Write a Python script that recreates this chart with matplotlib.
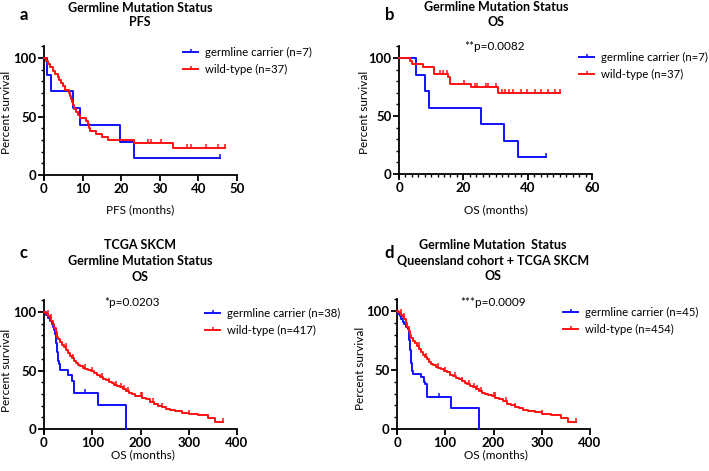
import numpy as np
import matplotlib.pyplot as plt
from matplotlib.path import Path
from matplotlib.lines import Line2D

plt.rcParams['font.family'] = ['Lato', 'DejaVu Sans']

BLUE = '#1010ff'
RED = '#ff1010'

# panel a: PFS, Queensland cohort
a_carrier_t = [0, 0.7, 1.7, 7.4, 9.2, 19.6, 23.4, 45.7]
a_carrier_s = [100, 85.7, 71.4, 57.1, 42.9, 28.6, 14.3, 14.3]
a_carrier_cens = [45.7]
a_wild_t = [0, 0.5, 1.0, 1.5, 2.3, 2.8, 3.7, 4.0, 4.5, 5.0, 5.5, 6.5, 6.8, 7.0, 7.2,
            7.5, 7.8, 8.2, 8.8, 9.2, 11.0, 11.3, 11.6, 12.0, 13.5, 15.0, 16.5, 23.4, 33.3, 47.0]
a_wild_s = [100, 97.3, 94.6, 91.9, 89.2, 86.5, 83.8, 81.1, 78.4, 75.7, 73.0, 70.3, 67.6, 64.9, 62.2,
            59.5, 56.8, 54.1, 51.4, 48.6, 45.9, 43.2, 40.5, 37.8, 35.1, 32.4, 29.7, 27.0, 23.2, 23.2]
a_wild_cens = [26.9, 27.6, 30.2, 37.0, 38.0, 42.0, 45.2, 47.0]

# panel b: OS, Queensland cohort
b_carrier_t = [0, 5.3, 8.1, 9.2, 25.4, 32.7, 37.0, 45.8]
b_carrier_s = [100, 85.7, 71.4, 57.1, 42.9, 28.6, 14.3, 14.3]
b_carrier_cens = [45.8]
b_wild_t = [0, 3.4, 3.9, 7.5, 11.0, 15.1, 15.8, 22.3, 30.8, 50.0]
b_wild_s = [100, 97.3, 94.6, 91.9, 86.5, 83.3, 77.8, 74.8, 70.2, 70.2]
b_wild_cens = [12.7, 13.8, 14.8, 20.3, 23.6, 24.4, 27.2, 27.7, 30.3, 31.9, 33.1, 34.1,
               35.5, 37.9, 39.9, 42.2, 44.1, 46.3, 48.4, 50.0]

# panel c: OS, TCGA SKCM
c_carrier_t = [0, 4, 8, 12, 16, 19, 21, 23, 24, 25, 26, 27, 28, 29, 30, 32, 34, 49, 57, 62, 111, 169]
c_carrier_s = [100, 97.4, 94.7, 92.1, 89.5, 86.8, 84.2, 81.6, 78.9, 73.7, 68.4, 65.8, 63.2, 60.5,
               57.9, 55.3, 50.5, 45.9, 40.8, 30.6, 20.4, 0]
c_carrier_cens = [85]
c_wild_t = [0, 3, 6, 9, 12, 15, 18, 21, 24, 27, 30, 34, 38, 42, 46, 50, 54, 58, 62, 66,
            70, 75, 80, 86, 92, 98, 104, 110, 116, 122, 128, 134, 140, 146, 152, 158, 164, 170, 176, 182,
            188, 196, 204, 212, 220, 228, 236, 244, 252, 262, 272, 285, 300, 320, 340, 355, 370]
c_wild_s = [100, 99, 98, 96.5, 95, 92.5, 89.5, 86, 82.5, 79, 76.5, 74.5, 72, 70, 67.5, 65, 62.5, 60.5, 58.5, 56.5,
            55, 54, 52.5, 51.5, 50.5, 49.5, 48, 46, 44.5, 43, 42, 40.5, 39, 38, 36.5, 35.5, 34, 32.5, 30.5, 29.5,
            28.5, 28, 26.5, 25.5, 23.5, 21.5, 20, 18.5, 17.5, 16.5, 15.5, 14, 12.5, 12, 9, 6, 6]
c_wild_cens = [8, 14, 45, 60, 85, 100, 120, 135, 150, 160, 166, 175, 200, 203, 226, 245, 300, 370]

# panel d: OS, Queensland cohort + TCGA SKCM
d_carrier_t = [0, 3, 6, 9, 12, 15, 18, 22, 24, 25, 26, 27, 28, 29, 30, 31, 32, 34, 49, 55, 58, 62, 111, 169]
d_carrier_s = [100, 97.8, 95.6, 93.3, 91.1, 88.9, 86.7, 84.4, 80.0, 75.6, 71.1, 66.7, 62.2, 57.8,
               55.6, 51.1, 48.9, 46.7, 44.4, 40.0, 37.8, 26.7, 17.8, 0]
d_carrier_cens = [87]
d_wild_t = [0, 3, 6, 9, 12, 15, 18, 21, 24, 27, 30, 34, 38, 42, 46, 50, 54, 58, 62, 66,
            70, 75, 80, 86, 92, 98, 104, 110, 116, 122, 128, 134, 140, 146, 152, 158, 164, 170, 176, 182,
            188, 196, 204, 212, 220, 228, 236, 244, 252, 262, 272, 285, 300, 320, 340, 355, 370]
d_wild_s = [100, 99, 98, 96.5, 95, 93, 90, 86.5, 83, 79.5, 77, 75, 72.5, 70.5, 68, 65.5, 63, 61, 59, 57,
            55.5, 54, 52.5, 51.5, 50.5, 49.5, 48, 46, 44.5, 43, 42, 40.5, 39, 38, 36.5, 35.5, 34, 32.5, 30.5, 29.5,
            28.5, 28, 26.5, 25.5, 23.5, 21.5, 20, 18.5, 17.5, 16.5, 15.5, 14, 12.5, 12, 9, 6, 6]
d_wild_cens = [8, 14, 45, 60, 85, 100, 120, 135, 150, 160, 166, 175, 200, 203, 226, 245, 300, 370]

W, H = 709, 471
fig = plt.figure(figsize=(W / 100, H / 100), dpi=100)

tick = Path([[0, 0], [0, 1]], [Path.MOVETO, Path.LINETO])


def px(x, y):
    return x / W, 1 - y / H


def surv_at(t, s, x):
    idx = np.searchsorted(t, x, side='right') - 1
    return np.asarray(s)[idx]


def km(ax, t, s, cens, color):
    ax.step(t, s, where='post', color=color, lw=1.4, clip_on=False, zorder=3)
    ax.plot(cens, surv_at(t, s, cens), ls='none', marker=tick, ms=6, mew=1.1,
            color=color, clip_on=False, zorder=3)


def make_axes(left, right, zero_y, hundred_y, xmax, xmajor, xminor=None):
    unit = (zero_y - hundred_y) / 100.0
    bottom = zero_y + 3 * unit
    top = hundred_y - 10 * unit
    ax = fig.add_axes([left / W, 1 - bottom / H, (right - left) / W, (bottom - top) / H])
    ax.set_xlim(0, xmax)
    ax.set_ylim(-3, 110)
    ax.spines['top'].set_visible(False)
    ax.spines['right'].set_visible(False)
    ax.spines['bottom'].set_position(('data', 0))
    for sp in ('left', 'bottom'):
        ax.spines[sp].set_linewidth(1.3)
    ax.set_yticks([0, 50, 100])
    ax.set_yticks(np.arange(0, 111, 10), minor=True)
    ax.set_xticks(np.arange(0, xmax + 1, xmajor))
    if xminor:
        ax.set_xticks(np.arange(0, xmax + 1, xminor), minor=True)
    ax.tick_params(which='major', direction='out', length=4, width=1.3, labelsize=9.5, pad=1.5)
    ax.tick_params(which='minor', direction='out', length=2.5, width=1.0)
    for lbl in ax.get_xticklabels() + ax.get_yticklabels():
        lbl.set_fontweight('bold')
    return ax


def legend(ax, x, y, labels):
    handles = [Line2D([0], [0], color=BLUE, lw=1.4, marker=tick, ms=5, mew=1.1),
               Line2D([0], [0], color=RED, lw=1.4, marker=tick, ms=5, mew=1.1)]
    ax.legend(handles, labels, loc='upper left', bbox_to_anchor=px(x, y),
              bbox_transform=fig.transFigure, frameon=False, fontsize=8.2,
              handlelength=1.35, handletextpad=0.55, labelspacing=0.5,
              borderpad=0, borderaxespad=0, numpoints=1)


def text(x, y, s, **kw):
    fig.text(*px(x, y), s, ha='center', va='center', **kw)


TITLE = dict(fontsize=9, fontweight='bold')

# a
ax = make_axes(44, 237, 175, 58, 50, 10)
km(ax, a_carrier_t, a_carrier_s, a_carrier_cens, BLUE)
km(ax, a_wild_t, a_wild_s, a_wild_cens, RED)
legend(ax, 183, 47, ['germline carrier (n=7)', 'wild-type (n=37)'])
text(140, 8, 'Germline Mutation Status', **TITLE)
text(140, 22, 'PFS', **TITLE)
text(24, 15, 'a', fontsize=12, fontweight='bold')
text(7, 112, 'Percent survival', fontsize=8.5, rotation=90)
text(140, 210, 'PFS (months)', fontsize=8.5)

# b
ax = make_axes(399, 592, 174, 58, 60, 20, 2)
km(ax, b_carrier_t, b_carrier_s, b_carrier_cens, BLUE)
km(ax, b_wild_t, b_wild_s, b_wild_cens, RED)
legend(ax, 579, 52, ['germline carrier (n=7)', 'wild-type (n=37)'])
text(496, 7, 'Germline Mutation Status', **TITLE)
text(496, 22, 'OS', **TITLE)
text(390, 15, 'b', fontsize=12, fontweight='bold')
text(364, 112, 'Percent survival', fontsize=8.5, rotation=90)
text(496, 210, 'OS (months)', fontsize=8.5)
text(495, 46, '**p=0.0082', fontsize=8.5)

# c
ax = make_axes(44, 237, 429, 312, 400, 100)
km(ax, c_carrier_t, c_carrier_s, c_carrier_cens, BLUE)
km(ax, c_wild_t, c_wild_s, c_wild_cens, RED)
legend(ax, 205, 308, ['germline carrier (n=38)', 'wild-type (n=417)'])
text(140, 245, 'TCGA SKCM', **TITLE)
text(140, 261, 'Germline Mutation Status', **TITLE)
text(140, 277, 'OS', **TITLE)
text(23, 253, 'c', fontsize=12, fontweight='bold')
text(7, 370, 'Percent survival', fontsize=8.5, rotation=90)
text(143, 455, 'OS (months)', fontsize=8.5)
text(132, 302, '*p=0.0203', fontsize=8.5)

# d
ax = make_axes(397, 590, 429, 311, 400, 100)
km(ax, d_carrier_t, d_carrier_s, d_carrier_cens, BLUE)
km(ax, d_wild_t, d_wild_s, d_wild_cens, RED)
legend(ax, 563, 307, ['germline carrier (n=45)', 'wild-type (n=454)'])
text(493, 245, 'Germline Mutation  Status', **TITLE)
text(493, 261, 'Queensland cohort + TCGA SKCM', **TITLE)
text(493, 276, 'OS', **TITLE)
text(389, 253, 'd', fontsize=12, fontweight='bold')
text(361, 368, 'Percent survival', fontsize=8.5, rotation=90)
text(496, 455, 'OS (months)', fontsize=8.5)
text(493, 302, '***p=0.0009', fontsize=8.5)

fig.savefig('out.png', dpi=100)
